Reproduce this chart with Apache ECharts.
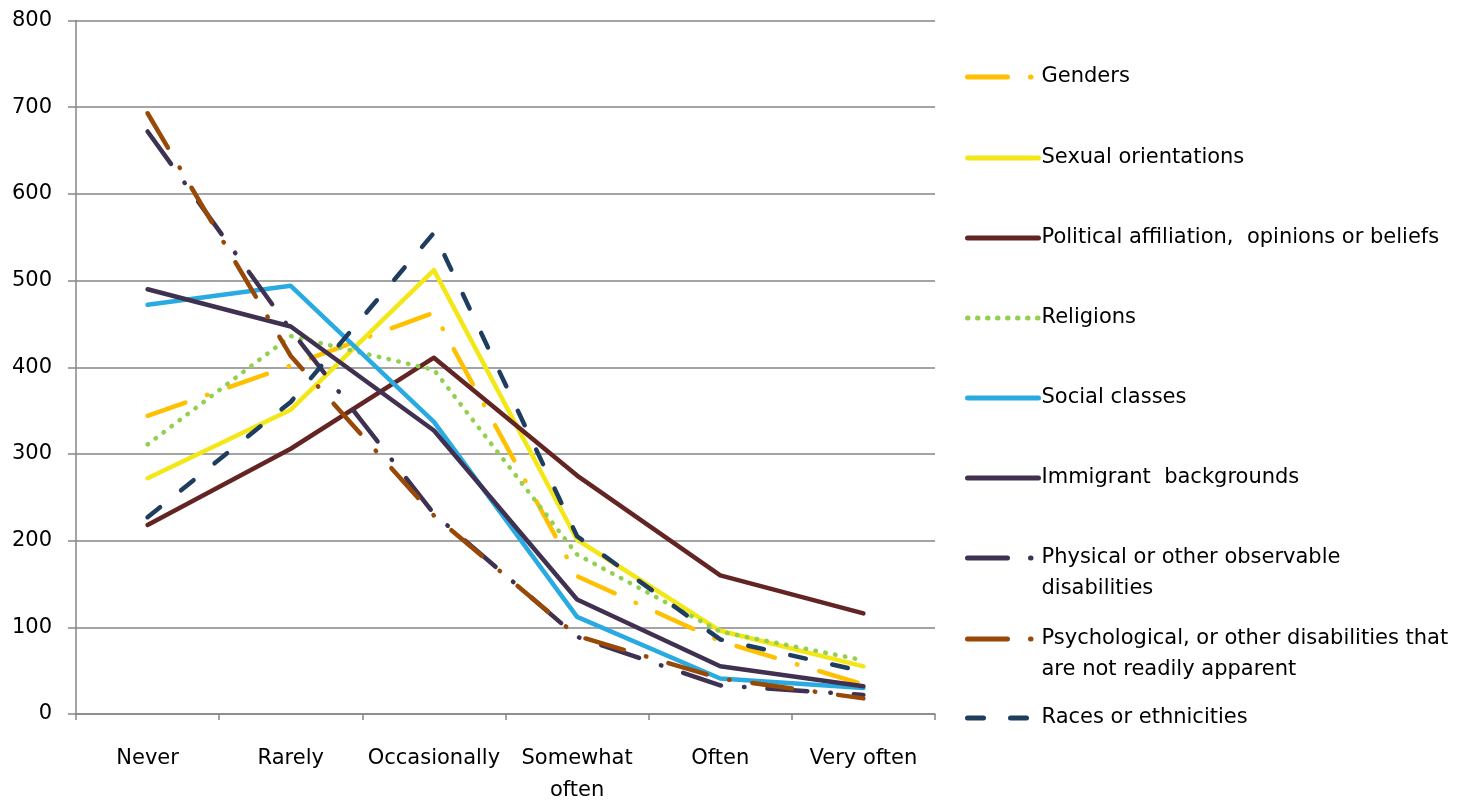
<!DOCTYPE html>
<html>
<head>
<meta charset="utf-8">
<title>Frequency chart</title>
<script src="https://cdn.jsdelivr.net/npm/echarts@6/dist/echarts.min.js"></script>
<style>
    html, body { margin: 0; padding: 0; background: #fff; overflow: hidden; }
    #chart { width: 1472px; height: 800px; }
</style>
</head>
<body>
<div id="chart"></div>
<script>
let categories = ['Never', 'Rarely', 'Occasionally', 'Somewhat\noften', 'Often', 'Very often'];
let yTicks = [0, 100, 200, 300, 400, 500, 600, 700, 800];

let genders = [344, 402, 463, 159, 84, 34];
let sexualOrientations = [272, 351, 512, 201, 96, 55];
let political = [218, 306, 411, 275, 160, 116];
let religions = [311, 436, 397, 184, 95, 62];
let socialClasses = [472, 494, 337, 112, 41, 30];
let immigrant = [490, 447, 327, 132, 55, 32];
let physical = [672, 443, 231, 89, 33, 22];
let psychological = [693, 413, 229, 90, 41, 18];
let races = [227, 360, 555, 205, 86, 49];

let seriesNames = [
    'Genders',
    'Sexual orientations',
    'Political affiliation,  opinions or beliefs',
    'Religions',
    'Social classes',
    'Immigrant  backgrounds',
    'Physical or other observable disabilities',
    'Psychological, or other disabilities that are not readily apparent',
    'Races or ethnicities'
];
let seriesData = [genders, sexualOrientations, political, religions, socialClasses,
    immigrant, physical, psychological, races];
let seriesColors = ['#FFC000', '#F3E717', '#632523', '#92D050', '#29ABE2',
    '#403151', '#3F3151', '#984807', '#1F3D5E'];
let dashDot = [40, 23, 0.5, 23];
let seriesDash = [dashDot, 'solid', 'solid', [0.5, 9.5], 'solid', 'solid', dashDot, dashDot, [16, 27]];

// the two long names wrap like the original;
// a blank first line keeps the icon level with the first text line
let legendLabels = {
    'Physical or other observable disabilities': ' \nPhysical or other observable\ndisabilities',
    'Psychological, or other disabilities that are not readily apparent': ' \nPsychological, or other disabilities that\nare not readily apparent'
};
let legendCenters = [77, 158, 238, 318, 398, 478, 558, 639, 718];

let fontFamily = 'DejaVu Sans';
let lineH = 31;

let series = [];
let legends = [];
for (let i = 0; i < seriesNames.length; i++) {
    series.push({
        name: seriesNames[i],
        type: 'line',
        data: seriesData[i],
        symbol: 'none',
        color: seriesColors[i],
        lineStyle: {
            color: seriesColors[i],
            width: 4.5,
            type: seriesDash[i],
            cap: 'round',
            join: 'round'
        },
        emphasis: { disabled: true }
    });
    let twoLines = !!legendLabels[seriesNames[i]];
    legends.push({
        data: [seriesNames[i]],
        orient: 'vertical',
        left: 965,
        top: twoLines ? legendCenters[i] - lineH * 1.5 : legendCenters[i] - lineH / 2,
        padding: 0,
        itemWidth: 71,
        itemHeight: 14,
        itemGap: 0,
        selectedMode: false,
        itemStyle: { opacity: 0 },
        lineStyle: { width: 5, cap: 'round' },
        formatter: function (name) { return legendLabels[name] || name; },
        textStyle: {
            fontFamily: fontFamily,
            fontSize: 21,
            color: '#000',
            lineHeight: lineH,
            padding: [0, 0, 0, -2]
        }
    });
}

let myChart = echarts.init(document.getElementById('chart'), null, { renderer: 'canvas' });
let option = {
    backgroundColor: '#fff',
    animation: false,
    grid: {
        left: 76, width: 859, top: 20.5, height: 693.5,
        containLabel: false,
        outerBoundsMode: 'none'
    },
    legend: legends,
    xAxis: {
        type: 'category',
        data: categories,
        boundaryGap: true,
        axisLine: { show: true, lineStyle: { color: '#868686', width: 1.5 } },
        axisTick: { show: true, alignWithLabel: false, length: 6, lineStyle: { color: '#868686', width: 1.5 } },
        axisLabel: {
            interval: 0,
            margin: 29,
            fontFamily: fontFamily,
            fontSize: 21,
            color: '#000',
            lineHeight: 32
        },
        splitLine: { show: false }
    },
    yAxis: {
        type: 'value',
        min: yTicks[0],
        max: yTicks[yTicks.length - 1],
        interval: 100,
        axisLine: { show: true, lineStyle: { color: '#868686', width: 1.5 } },
        axisTick: { show: true, length: 8, lineStyle: { color: '#868686', width: 1.5 } },
        axisLabel: {
            margin: 24,
            fontFamily: fontFamily,
            fontSize: 21,
            color: '#000'
        },
        splitLine: { show: true, lineStyle: { color: '#868686', width: 1.5 } }
    },
    series: series
};
myChart.setOption(option);
</script>
</body>
</html>
